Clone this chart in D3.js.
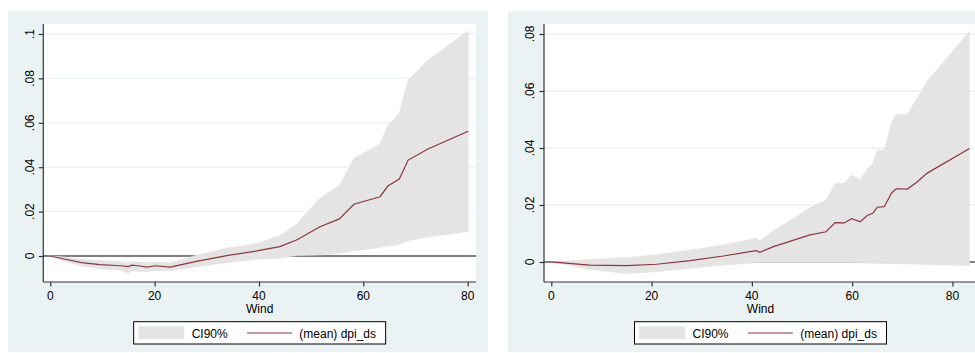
<!DOCTYPE html>
<html>
<head>
<meta charset="utf-8">
<script src="https://cdn.jsdelivr.net/npm/d3@7"></script>
<style>
    body { margin: 0; background: #fff; }
    svg { display: block; font-family: "Liberation Sans", Arial, Helvetica, sans-serif; }
</style>
</head>
<body>
<div id="chart"></div>
<script>
// Left panel data
const windL = [0, 2, 6, 9.5, 13.4, 15, 15.6, 17.2, 18.5, 20.1, 23, 28, 33.8, 39.6, 44, 47.2, 51.7, 55.4, 58.2, 63.2, 64.7, 66.9, 68.6, 72.4, 80.1];
const meanL = [0, -0.001, -0.003, -0.0039, -0.0044, -0.0048, -0.0041, -0.0045, -0.005, -0.0044, -0.005, -0.0024, 0.0002, 0.0023, 0.0042, 0.0072, 0.0132, 0.0167, 0.0233, 0.0267, 0.0315, 0.0347, 0.0432, 0.0482, 0.0562];
const upperL = [0, -0.0003, -0.0015, -0.002, -0.0026, -0.003, -0.0025, -0.0028, -0.003, -0.0028, -0.0031, 0.0003, 0.0035, 0.0056, 0.0092, 0.0143, 0.026, 0.0317, 0.044, 0.0503, 0.0587, 0.0643, 0.0793, 0.0883, 0.1014];
const lowerL = [0, -0.0018, -0.0045, -0.0058, -0.0063, -0.0078, -0.0068, -0.007, -0.0071, -0.0066, -0.0066, -0.0048, -0.003, -0.0015, -0.001, 0.0002, 0.0005, 0.0012, 0.0023, 0.0038, 0.0045, 0.0053, 0.0069, 0.0086, 0.011];

// Right panel data
const windR = [0, 1.7, 7.7, 15, 21, 27.7, 34.3, 40.8, 41.6, 44.3, 51.6, 54.8, 56.6, 58.4, 59.9, 61.6, 63.0, 64.1, 65.0, 66.4, 67.9, 68.8, 71.0, 72.9, 74.9, 83.4];
const meanR = [0, -0.0002, -0.0011, -0.0013, -0.0008, 0.0005, 0.0021, 0.004, 0.0034, 0.0054, 0.0095, 0.0106, 0.0138, 0.0137, 0.0152, 0.0141, 0.0163, 0.0171, 0.0192, 0.0194, 0.0243, 0.0257, 0.0256, 0.028, 0.0311, 0.0398];
const upperR = [0, 0.0002, 0.0009, 0.0016, 0.0025, 0.0042, 0.006, 0.0083, 0.0075, 0.011, 0.019, 0.0218, 0.0276, 0.0276, 0.0305, 0.0288, 0.0326, 0.0346, 0.039, 0.0393, 0.0492, 0.0518, 0.0518, 0.0574, 0.0633, 0.081];
const lowerR = [0, -0.0005, -0.0026, -0.004, -0.0034, -0.0022, -0.0011, -0.0003, -0.0002, -0.0002, -0.0002, -0.0002, -0.0002, -0.0003, -0.0003, -0.0003, -0.0004, -0.0004, -0.0005, -0.0005, -0.0006, -0.0006, -0.0007, -0.0008, -0.0009, -0.0013];

// Tick values and labels
const xTicks = [0, 20, 40, 60, 80];
const yTicksL = [0, 0.02, 0.04, 0.06, 0.08, 0.1];
const yTicksR = [0, 0.02, 0.04, 0.06, 0.08];
const legendLabels = ["CI90%", "(mean) dpi_ds"];
const xTitle = "Wind";

const bgColor = "#eaf2f3";
const bandColor = "#e4e4e4";
const lineColor = "#90353b";

const svg = d3.select("#chart").append("svg")
    .attr("width", 975)
    .attr("height", 353);

// Stata style tick label: ".02" instead of "0.02"
function stataFormat(v) {
    if (v === 0) return "0";
    return String(+v.toFixed(3)).replace(/^0\./, ".");
}

function drawPanel(opts) {
    const g = svg.append("g");

    // Outer graph region
    g.append("rect")
        .attr("x", opts.bgX)
        .attr("y", 11)
        .attr("width", opts.bgW)
        .attr("height", 341)
        .style("fill", bgColor);

    const x = d3.scaleLinear().domain(opts.xDomain).range([opts.left, opts.right]);
    const y = d3.scaleLinear().domain(opts.yDomain).range([282, 24]);

    // Plot region
    g.append("rect")
        .attr("x", opts.left)
        .attr("y", 24)
        .attr("width", opts.right - opts.left)
        .attr("height", 258)
        .style("fill", "#fff");

    // Grid lines
    g.selectAll(".grid")
        .data(opts.yTicks.filter(d => d !== 0))
        .enter()
        .append("line")
        .attr("x1", opts.left)
        .attr("x2", opts.right)
        .attr("y1", d => y(d))
        .attr("y2", d => y(d))
        .style("stroke", bgColor)
        .style("stroke-width", 1.3);

    // Zero reference line (under the band)
    g.append("line")
        .attr("x1", opts.left)
        .attr("x2", opts.right)
        .attr("y1", y(0))
        .attr("y2", y(0))
        .style("stroke", "#000")
        .style("stroke-width", 1.2);

    const rows = opts.wind.map((w, i) => ({ w: w, m: opts.mean[i], lo: opts.lower[i], hi: opts.upper[i] }));

    // Confidence band
    g.append("path")
        .datum(rows)
        .attr("d", d3.area().x(d => x(d.w)).y0(d => y(d.lo)).y1(d => y(d.hi)))
        .style("fill", bandColor)
        .style("stroke", bandColor)
        .style("stroke-width", 0.6);

    // Mean line
    g.append("path")
        .datum(rows)
        .attr("d", d3.line().x(d => x(d.w)).y(d => y(d.m)))
        .style("fill", "none")
        .style("stroke", lineColor)
        .style("stroke-width", 1.2);

    // Y axis
    const yAxis = g.append("g")
        .attr("transform", `translate(${opts.left},0)`)
        .call(d3.axisLeft(y).tickValues(opts.yTicks).tickSize(4.5).tickFormat(""));
    yAxis.select(".domain").attr("d", `M0,24V282`);
    yAxis.selectAll("line, path").style("stroke", "#333").style("stroke-width", 1.2);

    yAxis.selectAll(".ylab")
        .data(opts.yTicks)
        .enter()
        .append("text")
        .attr("transform", d => `translate(-9.8,${y(d)}) rotate(-90)`)
        .attr("text-anchor", "middle")
        .style("font-size", "12px")
        .style("fill", "#000")
        .text(stataFormat);

    // X axis
    const xAxis = g.append("g")
        .attr("transform", "translate(0,282)")
        .call(d3.axisBottom(x).tickValues(xTicks).tickSize(4.5).tickFormat(""));
    xAxis.select(".domain").attr("d", `M${opts.left},0H${opts.right}`);
    xAxis.selectAll("line, path").style("stroke", "#333").style("stroke-width", 1.2);

    xAxis.selectAll(".xlab")
        .data(xTicks)
        .enter()
        .append("text")
        .attr("x", d => x(d))
        .attr("y", 17.5)
        .attr("text-anchor", "middle")
        .style("font-size", "12px")
        .style("fill", "#000")
        .text(d => d);

    const mid = (opts.left + opts.right) / 2;

    g.append("text")
        .attr("x", mid)
        .attr("y", 312.5)
        .attr("text-anchor", "middle")
        .style("font-size", "12px")
        .text(xTitle);

    // Legend
    const lx = mid - 126;
    const legend = g.append("g").attr("transform", `translate(${lx},321.7)`);
    legend.append("rect")
        .attr("width", 252)
        .attr("height", 22.3)
        .style("fill", "#fff")
        .style("stroke", "#000")
        .style("stroke-width", 1);
    legend.append("rect")
        .attr("x", 4.7)
        .attr("y", 4.5)
        .attr("width", 46)
        .attr("height", 13)
        .style("fill", bandColor);
    legend.append("text")
        .attr("x", 58)
        .attr("y", 16.3)
        .style("font-size", "12px")
        .text(legendLabels[0]);
    legend.append("line")
        .attr("x1", 113.4)
        .attr("x2", 158.4)
        .attr("y1", 11.3)
        .attr("y2", 11.3)
        .style("stroke", lineColor)
        .style("stroke-width", 1.2);
    legend.append("text")
        .attr("x", 165.7)
        .attr("y", 16.3)
        .style("font-size", "12px")
        .text(legendLabels[1]);
}

drawPanel({
    bgX: 8, bgW: 480,
    left: 43.3, right: 476,
    xDomain: [-1.34, 81.6],
    yDomain: [-0.01171, 0.1045],
    yTicks: yTicksL,
    wind: windL, mean: meanL, upper: upperL, lower: lowerL
});

drawPanel({
    bgX: 508, bgW: 480,
    left: 544, right: 977,
    xDomain: [-1.456, 84.9],
    yDomain: [-0.00702, 0.08351],
    yTicks: yTicksR,
    wind: windR, mean: meanR, upper: upperR, lower: lowerR
});
</script>
</body>
</html>
